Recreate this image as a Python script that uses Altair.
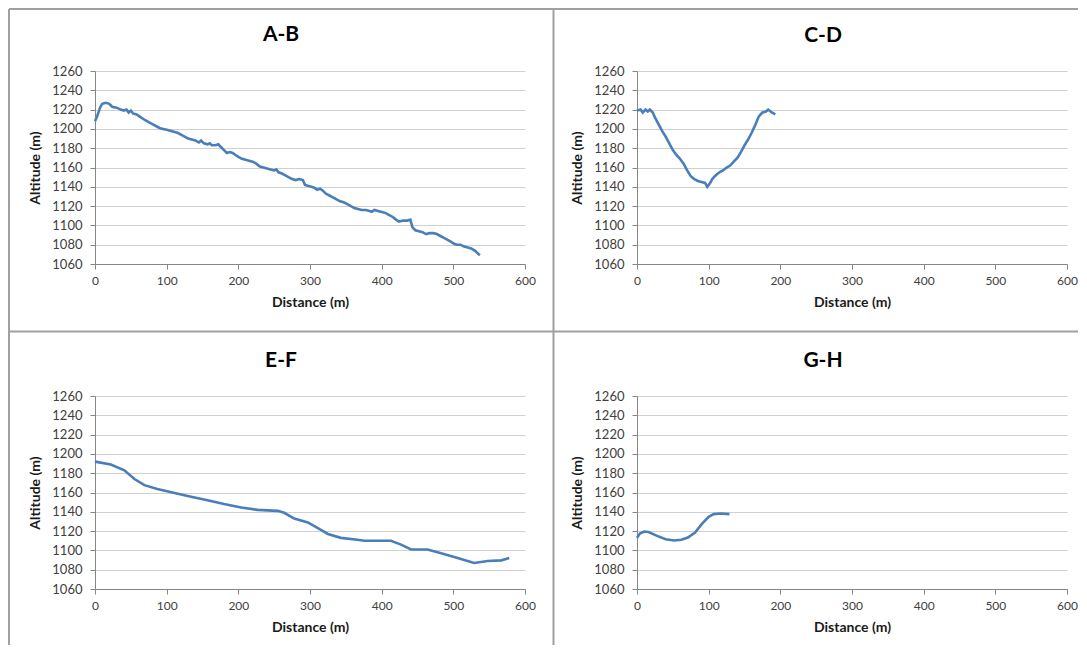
import altair as alt
import pandas as pd

# ---------------- data ----------------
ab_dist = [0, 3, 7, 10, 15, 20, 24, 30, 36, 40, 44, 47, 50, 53, 58, 62, 66, 70, 75, 80,
           85, 90, 95, 100, 105, 110, 115, 120, 125, 130, 135, 140, 145, 148, 152, 157, 160,
           163, 168, 172, 176, 180, 184, 188, 192, 196, 200, 205, 210, 215, 220, 225, 230,
           235, 240, 245, 250, 253, 256, 260, 265, 270, 275, 280, 285, 290, 293, 297, 302,
           306, 310, 314, 318, 322, 327, 332, 337, 342, 347, 352, 357, 362, 367, 372, 378,
           383, 386, 390, 395, 400, 405, 410, 415, 420, 424, 430, 436, 440, 443, 447, 452,
           457, 462, 467, 472, 477, 482, 487, 492, 497, 501, 505, 510, 515, 520, 525, 530,
           534, 537]
ab_alt = [1208, 1213, 1222, 1226, 1227, 1226, 1223, 1222, 1220, 1219, 1220, 1217, 1219, 1216,
          1215, 1213, 1211, 1209, 1207, 1205, 1203, 1201, 1200, 1199, 1198, 1197, 1196, 1194,
          1192, 1190, 1189, 1188, 1186, 1188, 1185, 1184, 1185, 1183, 1183, 1184, 1181, 1178,
          1175, 1176, 1175, 1173, 1171, 1169, 1168, 1167, 1166, 1164, 1161, 1160, 1159, 1158,
          1157, 1158, 1155, 1154, 1152, 1150, 1148, 1147, 1148, 1147, 1142, 1141, 1140, 1139,
          1137, 1138, 1136, 1133, 1131, 1129, 1127, 1125, 1124, 1122, 1120, 1118, 1117, 1116,
          1116, 1115, 1114, 1116, 1115, 1114, 1113, 1111, 1109, 1106, 1104, 1105, 1105, 1106,
          1098, 1095, 1094, 1093, 1091, 1092, 1092, 1091, 1089, 1087, 1085, 1083, 1081, 1080,
          1080, 1078, 1077, 1076, 1074, 1071, 1069]

cd_dist = [0, 5, 8, 12, 15, 18, 22, 25, 30, 35, 40, 45, 50, 55, 60, 65, 70, 75, 80, 85, 90,
           95, 98, 102, 105, 110, 115, 120, 125, 130, 135, 140, 145, 150, 155, 160, 165, 170,
           175, 180, 183, 188, 193]
cd_alt = [1219, 1220, 1217, 1220, 1218, 1220, 1217, 1212, 1205, 1198, 1192, 1185, 1178, 1173,
          1169, 1164, 1157, 1151, 1148, 1146, 1145, 1144, 1140, 1144, 1148, 1152, 1155, 1157,
          1160, 1162, 1166, 1170, 1176, 1183, 1189, 1196, 1204, 1213, 1217, 1218, 1220, 1217,
          1215]

ef_dist = [0, 22, 41, 55, 69, 87, 111, 134, 157, 180, 204, 227, 255, 264, 278, 297, 311, 325,
           343, 366, 376, 413, 427, 441, 464, 483, 506, 529, 548, 567, 578]
ef_alt = [1192, 1189, 1183, 1174, 1167.6, 1163.6, 1159.4, 1155.6, 1152, 1148, 1144.5, 1142,
          1141, 1139, 1133, 1129, 1123, 1117, 1113, 1111, 1110, 1110, 1106, 1101, 1101, 1097,
          1092, 1087, 1089, 1089.7, 1092]

gh_dist = [0, 4, 10, 16, 28, 40, 52, 62, 71, 81, 90, 100, 107, 117, 129]
gh_alt = [1113, 1117.5, 1119.5, 1119, 1115, 1111.5, 1110.3, 1111, 1113.4, 1118.6, 1127,
          1134.8, 1137.6, 1138.3, 1137.6]

panel_names = ["A-B", "C-D", "E-F", "G-H"]
x_ticks = [0, 100, 200, 300, 400, 500, 600]
y_ticks = [1060, 1080, 1100, 1120, 1140, 1160, 1180, 1200, 1220, 1240, 1260]

# ---------------- style ----------------
W, H = 430, 193
FONT = "Lato"
LINE_COLOR = "#4a7ebb"
BORDER = "#a0a0a0"


def panel(name, dist, alt_vals, title_offset=21.5, extra=None):
    df = pd.DataFrame({"Distance": dist, "Altitude": alt_vals})
    line = alt.Chart(df).mark_line(color=LINE_COLOR, strokeWidth=2.6).encode(
        x=alt.X("Distance:Q",
                scale=alt.Scale(domain=[0, 600], nice=False),
                axis=alt.Axis(values=x_ticks, title="Distance (m)", grid=False, format="d",
                              tickSize=5, labelPadding=6, labelFontSize=12,
                              titlePadding=9, labelFlush=False)),
        y=alt.Y("Altitude:Q",
                scale=alt.Scale(domain=[1060, 1260], nice=False, zero=False),
                axis=alt.Axis(values=y_ticks, title="Altitude (m)", grid=True, format="d",
                              tickSize=5, labelPadding=8, labelFontSize=13,
                              titlePadding=9, labelFlush=False)),
        order="Distance:Q",
    )
    layers = [line] + (extra or [])
    ch = alt.layer(*layers).properties(
        width=W, height=H,
        title=alt.TitleParams(name, anchor="middle", frame="group", dx=-29, dy=19,
                              offset=title_offset, baseline="alphabetic",
                              font=FONT, fontSize=21, fontWeight="bold",
                              color="#000000"),
    )
    return ch


one = pd.DataFrame({"k": [0]})


def rule(**enc):
    return alt.Chart(one).mark_rule(color=BORDER, strokeWidth=2).encode(**enc)


# decorative panel borders (pixel offsets relative to the first panel's plot area)
borders = [
    rule(x=alt.value(-86), y=alt.value(-62), y2=alt.value(574)),
    rule(x=alt.value(-86), x2=alt.value(983), y=alt.value(-62)),
    rule(x=alt.value(458.5), y=alt.value(-62), y2=alt.value(574)),
    rule(x=alt.value(-86), x2=alt.value(983), y=alt.value(260.5)),
]

c1 = panel(panel_names[0], ab_dist, ab_alt, title_offset=-35, extra=borders)
c2 = panel(panel_names[1], cd_dist, cd_alt)
c3 = panel(panel_names[2], ef_dist, ef_alt)
c4 = panel(panel_names[3], gh_dist, gh_alt)

chart = alt.concat(
    c1, c2, c3, c4, columns=2,
    spacing={"row": 132, "column": 112},
    bounds="flush",
).properties(
    padding={"left": 0, "top": 0, "right": 0, "bottom": 0},
    background="white",
).configure_view(
    strokeWidth=0
).configure_axis(
    domainColor="#868686", tickColor="#868686", gridColor="#d0d0d0", gridWidth=1,
    labelFont=FONT, labelColor="#404040",
    titleFont=FONT, titleFontSize=14, titleFontWeight="bold", titleColor="#1a1a1a",
)

chart.save("out.html", embed_options={"renderer": "svg", "actions": False})
